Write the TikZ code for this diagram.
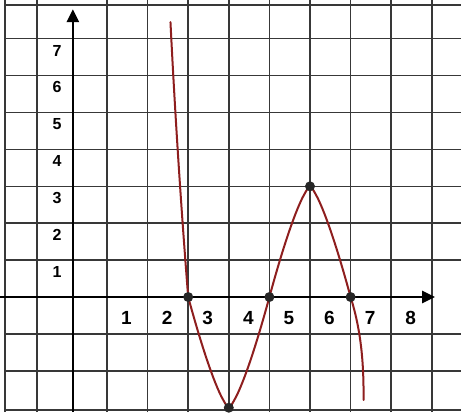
\documentclass[tikz,border=0pt]{standalone}
\usepackage{fontspec}
\setmainfont{Liberation Sans}
\usetikzlibrary{arrows.meta}

\definecolor{curvered}{HTML}{8E1E1E}
\definecolor{gridgray}{HTML}{383838}

\tikzset{
  gridline/.style={line width=1.5pt, gridgray},
  axisline/.style={line width=2.6pt, black, -{Triangle[length=13pt,width=12pt]}},
  graphline/.style={line width=2pt, curvered, line cap=round},
  dot/.style={circle, fill=black!85, inner sep=0pt, minimum size=10pt},
  xlab/.style={font=\fontsize{19}{19}\selectfont\bfseries, inner sep=0pt},
  ylab/.style={font=\fontsize{16}{16}\selectfont\bfseries, inner sep=0pt}
}

\begin{document}
\begin{tikzpicture}[x=40.6pt,y=36.9pt]
\useasboundingbox[fill=white] (-1.635,-3.117) rectangle (9.719,8.049);
\foreach \y in {-3.06,-2,-1,1,2,3,4,5,6,7,7.91}
  \draw[gridline] (-1.51,\y) -- (9.719,\y);
\foreach \x in {-1.51,-0.72,1,2,3,4,5,6,7,8,9}
  \draw[gridline] (\x,-3.117) -- (\x,8.049);
\draw[axisline] (-1.635,0) -- (9.08,0);
\draw[axisline] (0.16,-3.117) -- (0.16,7.8);
\foreach \k in {1,...,8}
  \node[xlab] (xl\k) at (\k+0.48,-0.57) {\k};
\foreach \k in {1,...,7}
  \node[ylab] (yl\k) at (-0.23,\k-0.32) {\k};
\draw[graphline] plot[domain=7.45:0, samples=30, variable=\t]
  ({3-0.072*\t+0.0018*\t*\t},\t);
\draw[graphline] plot[domain=3:5, samples=40, smooth]
  (\x,{-3*(1-max(abs(\x-4),0.0001)^1.35)});
\draw[graphline] plot[domain=5:7, samples=40, smooth]
  (\x,{3*(1-max(abs(\x-6),0.0001)^1.35)});
\draw[graphline] plot[domain=0:-2.79, samples=30, smooth, variable=\t]
  ({7+0.32*(1-(1+\t/2.8)^2.5)},\t);
\node[dot] (p1) at (3,0) {};
\node[dot] (p2) at (4,-3) {};
\node[dot] (p3) at (5,0) {};
\node[dot] (p4) at (6,3) {};
\node[dot] (p5) at (7,0) {};
\end{tikzpicture}
\end{document}
